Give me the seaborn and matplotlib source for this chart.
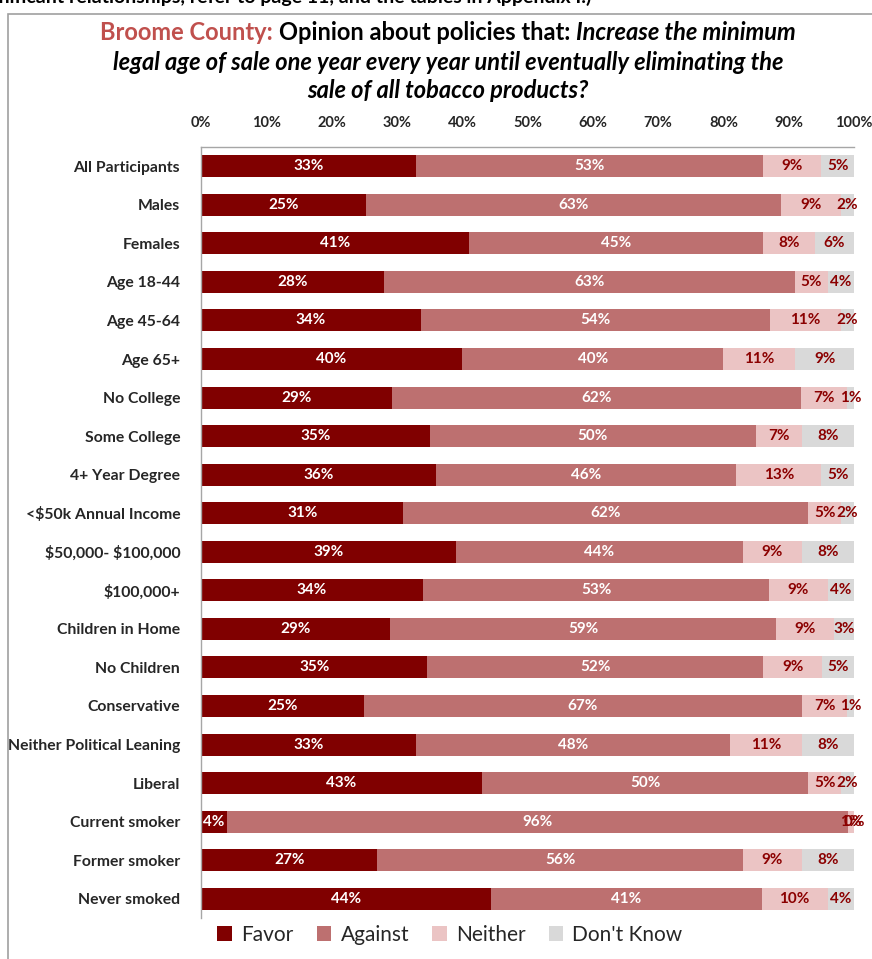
import numpy as np
import pandas as pd
import matplotlib
matplotlib.use("Agg")
import matplotlib.pyplot as plt
from matplotlib.patches import Patch, Rectangle
import seaborn as sns

# ---- data -------------------------------------------------------------
categories = [
    "All Participants", "Males", "Females", "Age 18-44", "Age 45-64",
    "Age 65+", "No College", "Some College", "4+ Year Degree",
    "<$50k Annual Income", "$50,000- $100,000", "$100,000+",
    "Children in Home", "No Children", "Conservative",
    "Neither Political Leaning", "Liberal", "Current smoker",
    "Former smoker", "Never smoked",
]
favor    = [33, 25, 41, 28, 34, 40, 29, 35, 36, 31, 39, 34, 29, 35, 25, 33, 43, 4, 27, 44]
against  = [53, 63, 45, 63, 54, 40, 62, 50, 46, 62, 44, 53, 59, 52, 67, 48, 50, 96, 56, 41]
neither  = [9, 9, 8, 5, 11, 11, 7, 7, 13, 5, 9, 9, 9, 9, 7, 11, 5, 1, 9, 10]
dontknow = [5, 2, 6, 4, 2, 9, 1, 8, 5, 2, 8, 4, 3, 5, 1, 8, 2, 0, 8, 4]
series_names = ["Favor", "Against", "Neither", "Don't Know"]
xticks = [0, 10, 20, 30, 40, 50, 60, 70, 80, 90, 100]

colors = ["#800000", "#BD7070", "#EBC4C4", "#D9D9D9"]
label_colors = ["white", "white", "#8B0000", "#8B0000"]

sns.set_theme(style="white")
plt.rcParams["font.family"] = ["Lato", "DejaVu Sans"]
plt.rcParams["text.parse_math"] = False  # dollar signs are literal text

df = pd.DataFrame({"Category": categories, "Favor": favor, "Against": against,
                   "Neither": neither, "Don't Know": dontknow})
vals = df[series_names].to_numpy(dtype=float)
# 100% stacked: each row is shown as a share of its total
shares = vals / vals.sum(axis=1, keepdims=True) * 100
cum = np.cumsum(shares, axis=1)

W, H = 872, 959
fig = plt.figure(figsize=(W / 100, H / 100), dpi=100)

# outer frame of the chart area
fig.add_artist(Rectangle((8 / W, -0.1), 1.2, 1 - 14 / H + 0.1, transform=fig.transFigure,
                         fill=False, edgecolor="#A0A0A0", linewidth=1.2))

# note line running off the top edge
fig.text(591 / W, 1 - 3 / H,
         "(For significant relationships, refer to page 11, and the tables in Appendix I.)",
         ha="right", va="baseline", fontsize=14, fontweight="bold", color="black")

ax = fig.add_axes([201 / W, 1 - 918 / H, 653 / W, (918 - 147) / H])

# draw cumulative totals back to front so each layer shows as a segment
for i in range(3, -1, -1):
    plot_df = pd.DataFrame({"Category": categories, "value": cum[:, i]})
    sns.barplot(data=plot_df, x="value", y="Category", orient="y", color=colors[i],
                width=0.57, saturation=1, linewidth=0, ax=ax)

# value labels at segment centres
for r in range(len(categories)):
    start = 0.0
    for i in range(4):
        w = shares[r, i]
        ax.text(start + w / 2, r, f"{int(vals[r, i])}%", ha="center", va="center",
                fontsize=11, fontweight="bold", color=label_colors[i])
        start += w

ax.set_xlim(0, 100)
ax.set_ylim(len(categories) - 0.5, -0.5)
ax.set_xlabel("")
ax.set_ylabel("")
ax.xaxis.tick_top()
ax.set_xticks(xticks)
ax.set_xticklabels([f"{t}%" for t in xticks], fontsize=10.5, fontweight="bold")
ax.tick_params(axis="x", length=0, pad=12)
ax.tick_params(axis="y", length=0, pad=15, labelsize=11.3)
for lab in ax.get_yticklabels():
    lab.set_fontweight("bold")
for s in ["right", "bottom"]:
    ax.spines[s].set_visible(False)
for s in ["top", "left"]:
    ax.spines[s].set_color("#A6A6A6")
    ax.spines[s].set_linewidth(1.0)
ax.grid(False)

# legend
handles = [Patch(facecolor=c, edgecolor="none") for c in colors]
fig.legend(handles, series_names, loc="center", bbox_to_anchor=(450 / W, 1 - 935 / H),
           ncol=4, frameon=False, fontsize=15, handlelength=0.7, handleheight=0.7,
           handletextpad=0.45, columnspacing=1.1)

# title with mixed colour / style on the first line
renderer = fig.canvas.get_renderer()
title_fs = 17
def place_line(pieces, yc, xc=448):
    texts = []
    for txt, color, style in pieces:
        t = fig.text(0, 1 - yc / H, txt, ha="left", va="center", fontsize=title_fs,
                     fontweight="bold", fontstyle=style, color=color)
        texts.append(t)
    widths = [t.get_window_extent(renderer).width for t in texts]
    x = xc - sum(widths) / 2
    for t, w in zip(texts, widths):
        t.set_x(x / W)
        x += w

place_line([("Broome County: ", "#C0504D", "normal"),
            ("Opinion about policies that: ", "black", "normal"),
            ("Increase the minimum", "black", "italic")], 33)
place_line([("legal age of sale one year every year until eventually eliminating the",
             "black", "italic")], 63)
place_line([("sale of all tobacco products?", "black", "italic")], 91)

fig.savefig("out.png", dpi=100)
